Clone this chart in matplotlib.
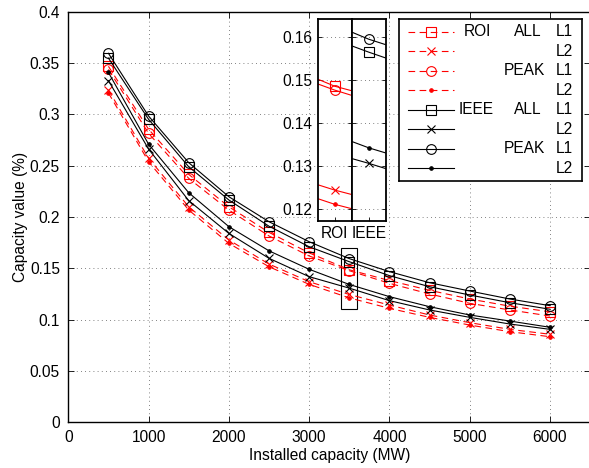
import matplotlib
matplotlib.use("Agg")
import matplotlib.pyplot as plt
from matplotlib.patches import Rectangle
from matplotlib.ticker import FuncFormatter
import numpy as np

plt.rcParams["font.family"] = ["Liberation Sans", "DejaVu Sans"]
plt.rcParams["font.size"] = 11.2

capacity = np.arange(500, 6001, 500)

roi_all_l1 = [0.347, 0.2856, 0.2416, 0.2100, 0.1850, 0.1650, 0.1485, 0.1380, 0.1285, 0.1200, 0.1130, 0.1075]
roi_all_l2 = [0.324, 0.2573, 0.2100, 0.1776, 0.1541, 0.1369, 0.1244, 0.1141, 0.1044, 0.0969, 0.0904, 0.0856]
roi_peak_l1 = [0.344, 0.2816, 0.2377, 0.2068, 0.1815, 0.1620, 0.1476, 0.1353, 0.1249, 0.1158, 0.1093, 0.1034]
roi_peak_l2 = [0.321, 0.2540, 0.2068, 0.1743, 0.1515, 0.1343, 0.1211, 0.1109, 0.1021, 0.0946, 0.0881, 0.0832]
ieee_all_l1 = [0.355, 0.2953, 0.2490, 0.2166, 0.1910, 0.1710, 0.1564, 0.1428, 0.1320, 0.1239, 0.1164, 0.1100]
ieee_all_l2 = [0.333, 0.2663, 0.2160, 0.1840, 0.1597, 0.1418, 0.1306, 0.1184, 0.1093, 0.1021, 0.0956, 0.0904]
ieee_peak_l1 = [0.3597, 0.2985, 0.2530, 0.2198, 0.1954, 0.1759, 0.1594, 0.1467, 0.1359, 0.1278, 0.1200, 0.1135]
ieee_peak_l2 = [0.341, 0.2710, 0.2237, 0.1906, 0.1670, 0.1490, 0.1342, 0.1223, 0.1125, 0.1044, 0.0985, 0.0924]

roi_series = [(roi_all_l1, "s"), (roi_all_l2, "x"), (roi_peak_l1, "o"), (roi_peak_l2, ".")]
ieee_series = [(ieee_all_l1, "s"), (ieee_all_l2, "x"), (ieee_peak_l1, "o"), (ieee_peak_l2, ".")]

DASH = (0, (6, 4))
MS = {"s": 6.5, "x": 6, "o": 7, ".": 5}


def style(marker, color, ls):
    return dict(color=color, ls=ls, lw=0.8, marker=marker, ms=MS[marker],
                mfc="none" if marker != "." else color, mec=color, mew=0.8)


fig = plt.figure(figsize=(5.89, 4.68), dpi=100)
ax = fig.add_axes([68.3 / 589, 46 / 468, 521.8 / 589, 410 / 468])

for vals, m in roi_series:
    ax.plot(capacity, vals, **style(m, "red", DASH))
for vals, m in ieee_series:
    ax.plot(capacity, vals, **style(m, "black", "-"))

ax.add_patch(Rectangle((3400, 0.11), 200, 0.06, fill=False, ec="black", lw=0.8))

ax.set_xlim(0, 6500)
ax.set_ylim(0, 0.4)
ax.set_xticks(np.arange(0, 6001, 1000))
ax.set_yticks(np.arange(0, 0.401, 0.05))
ax.yaxis.set_major_formatter(FuncFormatter(lambda v, p: f"{v:g}"))
ax.tick_params(direction="in", top=True, right=True, length=4, width=0.6, pad=6)
ax.grid(True, ls=(0, (1, 4)), color="0.35", lw=0.6)
ax.set_xlabel("Installed capacity (MW)", labelpad=2)
ax.set_ylabel("Capacity value (%)", labelpad=1)
for s in ax.spines.values():
    s.set_linewidth(1.0)

# zoomed inset at 3500 MW
inset_y = 19
inset_h = 201.7
for i, (series, color, name) in enumerate([(roi_series, "red", "ROI"), (ieee_series, "black", "IEEE")]):
    left = 317.7 + i * 34.1
    iax = fig.add_axes([left / 589, (468 - inset_y - inset_h) / 468, 34.1 / 589, inset_h / 468])
    for vals, m in series:
        iax.plot(capacity, vals, **style(m, color, "-"))
    iax.set_xlim(3450, 3550)
    iax.set_ylim(0.1173, 0.1641)
    iax.set_xticks([3500])
    iax.set_xticklabels([name])
    iax.set_yticks(np.arange(0.12, 0.1601, 0.01))
    iax.yaxis.set_major_formatter(FuncFormatter(lambda v, p: f"{v:.2f}"))
    iax.tick_params(direction="in", length=3, width=0.6, pad=4, right=True)
    if i == 1:
        iax.tick_params(labelleft=False)
    iax.grid(True, axis="y", ls=(0, (1, 4)), color="0.35", lw=0.6)
    for s in iax.spines.values():
        s.set_linewidth(1.3)

# legend
lax = fig.add_axes([399 / 589, (468 - 181) / 468, 183 / 589, 162 / 468])
lax.set_xlim(0, 183)
lax.set_ylim(162, 0)
lax.set_xticks([])
lax.set_yticks([])
for s in lax.spines.values():
    s.set_linewidth(1.2)

row_labels = [("ROI", "ALL", "L1"), ("", "", "L2"), ("", "PEAK", "L1"), ("", "", "L2"),
              ("IEEE", "ALL", "L1"), ("", "", "L2"), ("", "PEAK", "L1"), ("", "", "L2")]
handles = [("red", DASH, m) for _, m in roi_series] + [("black", "-", m) for _, m in ieee_series]
for r, ((color, ls, m), (src, kind, lvl)) in enumerate(zip(handles, row_labels)):
    y = 12.7 + r * 19.5
    lax.plot([9, 55], [y, y], color=color, ls=ls, lw=0.8)
    lax.plot([32], [y], **style(m, color, "none"))
    if src:
        lax.text(65 if src == "ROI" else 60, y, src, va="center", ha="left")
    if kind:
        lax.text(115 if kind == "ALL" else 105, y, kind, va="center", ha="left")
    lax.text(157, y, lvl, va="center", ha="left")

fig.savefig("out.png", dpi=100)
